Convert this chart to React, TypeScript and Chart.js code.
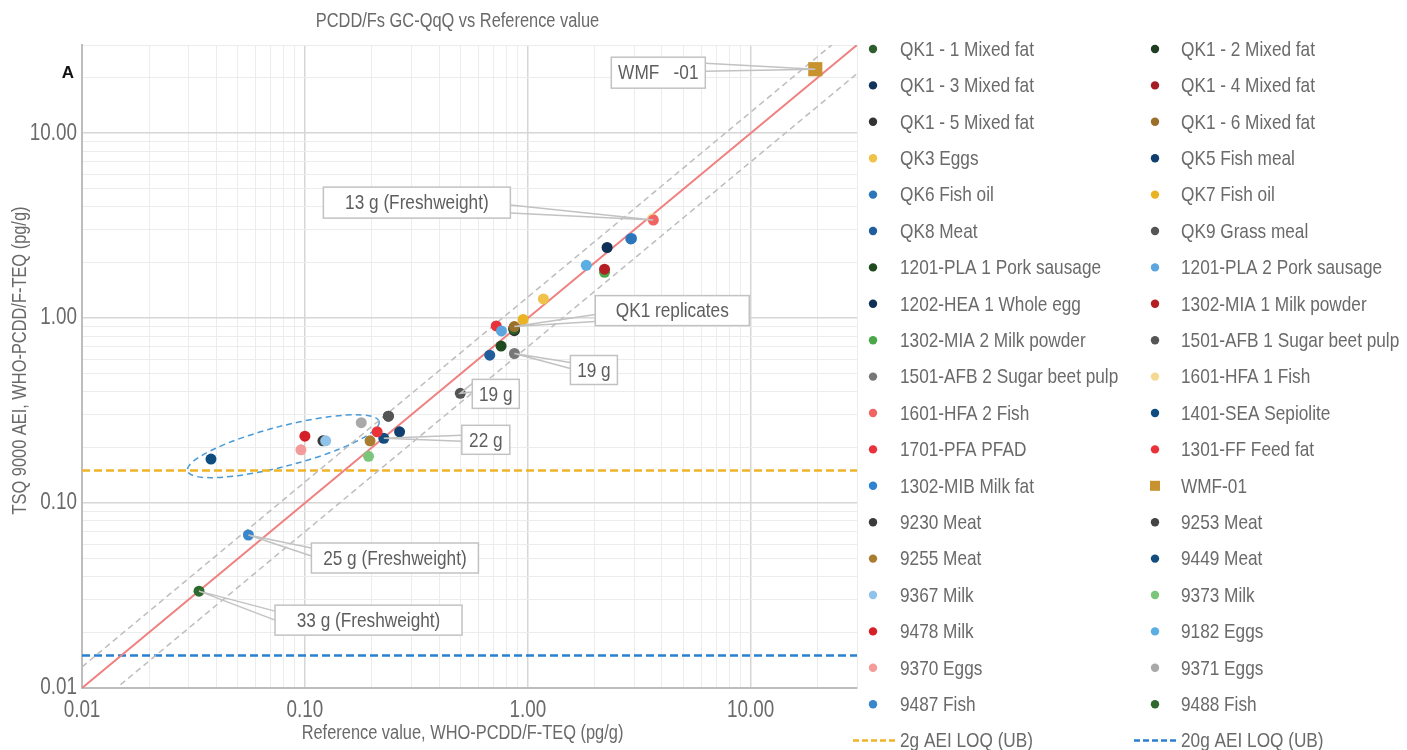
import { useEffect, useRef } from "react";
import { Chart, registerables } from "chart.js";

Chart.register(...registerables);

// Samples, listed in legend order (read left to right, row by row)
const sampleNames = [
  "QK1 - 1 Mixed fat", "QK1 - 2 Mixed fat",
  "QK1 - 3 Mixed fat", "QK1 - 4 Mixed fat",
  "QK1 - 5 Mixed fat", "QK1 - 6 Mixed fat",
  "QK3 Eggs", "QK5 Fish meal",
  "QK6 Fish oil", "QK7 Fish oil",
  "QK8 Meat", "QK9 Grass meal",
  "1201-PLA 1 Pork sausage", "1201-PLA 2 Pork sausage",
  "1202-HEA 1 Whole egg", "1302-MIA 1 Milk powder",
  "1302-MIA 2 Milk powder", "1501-AFB 1 Sugar beet pulp",
  "1501-AFB 2 Sugar beet pulp", "1601-HFA 1 Fish",
  "1601-HFA 2 Fish", "1401-SEA Sepiolite",
  "1701-PFA PFAD", "1301-FF Feed fat",
  "1302-MIB Milk fat", "WMF-01",
  "9230 Meat", "9253 Meat",
  "9255 Meat", "9449 Meat",
  "9367 Milk", "9373 Milk",
  "9478 Milk", "9182 Eggs",
  "9370 Eggs", "9371 Eggs",
  "9487 Fish", "9488 Fish",
];

// Reference value, WHO-PCDD/F-TEQ (pg/g)
const referenceValues = [
  0.865, 0.87,
  0.87, 0.865,
  0.87, 0.87,
  1.175, 0.266,
  2.9, 0.953,
  0.675, 0.237,
  0.759, 0.762,
  2.27, 2.21,
  2.21, 0.498,
  0.871, 3.63,
  3.66, 0.0379,
  0.722, 0.211,
  2.92, 19.5,
  0.1205, 0.237,
  0.196, 0.226,
  0.124, 0.193,
  0.1, 1.83,
  0.096, 0.179,
  0.0558, 0.0335,
];

// TSQ 9000 AEI, WHO-PCDD/F-TEQ (pg/g)
const measuredValues = [
  0.875, 0.865,
  0.87, 0.88,
  0.855, 0.9,
  1.27, 0.243,
  2.68, 0.984,
  0.631, 0.295,
  0.706, 0.853,
  2.41, 1.84,
  1.77, 0.392,
  0.644, 3.45,
  3.39, 0.173,
  0.908, 0.243,
  2.7, 22.2,
  0.217, 0.295,
  0.217, 0.224,
  0.217, 0.179,
  0.23, 1.93,
  0.194, 0.272,
  0.0672, 0.0334,
];

const sampleColors = [
  "#2e5e2e", "#1f3d1f",
  "#13345a", "#a51c24",
  "#333333", "#9a6f2a",
  "#f0c24a", "#0f3f6e",
  "#2b75bb", "#e9b322",
  "#1f5d9c", "#555555",
  "#1f4a20", "#5da5de",
  "#0f3157", "#b41f24",
  "#4aa84a", "#555555",
  "#777777", "#f5d892",
  "#f06464", "#0f4c80",
  "#e8323c", "#ea3338",
  "#2f82cf", "#c8922e",
  "#3a3a3a", "#444444",
  "#a97d30", "#134c7e",
  "#90c3ea", "#7cc67c",
  "#d5202a", "#5aaee2",
  "#f39a9a", "#a9a9a9",
  "#3a86cc", "#2e6a2e",
];

// Stacking of overlapping markers
const drawnBelow = ["1601-HFA 1 Fish", "9230 Meat"];
const drawnAbove = ["QK1 - 6 Mixed fat"];

// Axis range, labelled ticks and reference lines
const axisRange = [0.01, 30];
const decadeTicks = [0.01, 0.1, 1, 10];
const identityLine = [0.01, 30];
const upperBandFactor = 1.3;
const lowerBandFactor = 0.7;
const loqLabels = ["2g AEI LOQ (UB)", "20g AEI LOQ (UB)"];
const loqValues = [0.15, 0.015];
const loqColors = ["#f0b429", "#2a7fcf"];

const chartTitle = "PCDD/Fs GC-QqQ vs Reference value";
const xTitle = "Reference value, WHO-PCDD/F-TEQ (pg/g)";
const yTitle = "TSQ 9000 AEI, WHO-PCDD/F-TEQ (pg/g)";

// Labelled samples with callout boxes (offsets in px from the marker)
const callouts = [
  { sample: "WMF-01", text: "WMF   -01", dx: -204, dy: -12, w: 94, h: 31, side: "right", a: [6, 14] },
  { sample: "1601-HFA 2 Fish", text: "13 g (Freshweight)", dx: -330, dy: -33, w: 187, h: 31, side: "right", a: [18, 26] },
  { sample: "QK1 - 6 Mixed fat", text: "QK1 replicates", dx: 81, dy: -31, w: 154, h: 30, side: "left", a: [19, 26] },
  { sample: "1501-AFB 2 Sugar beet pulp", text: "19 g", dx: 56, dy: 2, w: 47, h: 29, side: "left", a: [7, 13] },
  { sample: "1501-AFB 1 Sugar beet pulp", text: "19 g", dx: 12, dy: -14, w: 47, h: 29, side: "left", a: [4, 13] },
  { sample: "9449 Meat", text: "22 g", dx: 78, dy: -13, w: 48, h: 29, side: "left", a: [10, 16] },
  { sample: "9487 Fish", text: "25 g (Freshweight)", dx: 63, dy: 8, w: 167, h: 30, side: "left", a: [5, 13] },
  { sample: "9488 Fish", text: "33 g (Freshweight)", dx: 76, dy: 14, w: 187, h: 30, side: "left", a: [6, 15] },
];

// Dashed ellipse around the low-level cluster (centre in data units, radii in px)
const clusterEllipse = { x: 0.08, y: 0.203, rx: 99, ry: 20, angle: -14.5 };

const FONT = "'Liberation Sans', Arial, sans-serif";
const NARROW = 0.82;
const TEXT = "#6a6a6a";

const isDecade = (v: number) => Math.abs(Math.log10(v) - Math.round(Math.log10(v))) < 1e-9;

const gridValues: number[] = [];
for (let e = -2; e <= 1; e++) {
  for (let m = 1; m <= 9; m++) {
    const v = +(m * Math.pow(10, e)).toPrecision(3);
    if (v <= axisRange[1] + 1e-9) gridValues.push(v);
  }
}

// Condensed text: regular face squeezed horizontally
function narrowText(
  ctx: CanvasRenderingContext2D,
  text: string,
  x: number,
  y: number,
  size: number,
  color: string,
  align: CanvasTextAlign = "left",
  rotate = 0
) {
  ctx.save();
  ctx.font = `${size}px ${FONT}`;
  ctx.fillStyle = color;
  ctx.textAlign = align;
  ctx.textBaseline = "middle";
  ctx.translate(x, y);
  if (rotate) ctx.rotate(rotate);
  ctx.scale(NARROW, 1);
  ctx.fillText(text, 0, 0);
  ctx.restore();
}

const overlayPlugin = {
  id: "overlay",
  beforeDatasetsDraw(chart: any) {
    const { ctx, scales, chartArea } = chart;
    const cx = scales.x.getPixelForValue(clusterEllipse.x);
    const cy = scales.y.getPixelForValue(clusterEllipse.y);
    ctx.save();
    ctx.beginPath();
    ctx.rect(chartArea.left, chartArea.top, chartArea.width, chartArea.height);
    ctx.clip();
    ctx.beginPath();
    ctx.ellipse(cx, cy, clusterEllipse.rx, clusterEllipse.ry, (clusterEllipse.angle * Math.PI) / 180, 0, Math.PI * 2);
    ctx.setLineDash([6, 4]);
    ctx.lineWidth = 1.5;
    ctx.strokeStyle = "#4a9ad8";
    ctx.stroke();
    ctx.restore();
  },
  afterDatasetsDraw(chart: any) {
    const { ctx, scales } = chart;
    ctx.save();
    callouts.forEach((c) => {
      const i = sampleNames.indexOf(c.sample);
      const px = scales.x.getPixelForValue(referenceValues[i]);
      const py = scales.y.getPixelForValue(measuredValues[i]);
      const bx = px + c.dx;
      const by = py + c.dy;
      const ex = c.side === "right" ? bx + c.w : bx;
      ctx.setLineDash([]);
      ctx.strokeStyle = "#c2c2c2";
      ctx.lineWidth = 1.5;
      ctx.beginPath();
      ctx.moveTo(ex, by + c.a[0]);
      ctx.lineTo(px, py);
      ctx.lineTo(ex, by + c.a[1]);
      ctx.stroke();
      ctx.fillStyle = "#ffffff";
      ctx.fillRect(bx, by, c.w, c.h);
      ctx.strokeRect(bx, by, c.w, c.h);
      narrowText(ctx, c.text, bx + c.w / 2, by + c.h / 2 + 1, 21, "#5e5e5e", "center");
    });
    ctx.restore();
  },
  afterDraw(chart: any) {
    const { ctx, chartArea, scales } = chart;
    ctx.save();

    // axis tick labels
    decadeTicks.forEach((v) => {
      const label = v.toFixed(2);
      narrowText(ctx, label, scales.x.getPixelForValue(v), chartArea.bottom + 23, 23, TEXT, "center");
      narrowText(ctx, label, chartArea.left - 5, scales.y.getPixelForValue(v), 23, TEXT, "right");
    });

    // axis titles and chart title
    narrowText(ctx, xTitle, (chartArea.left + chartArea.right) / 2 - 7, chartArea.bottom + 45, 20, TEXT, "center");
    narrowText(ctx, yTitle, 20, (chartArea.top + chartArea.bottom) / 2 - 6, 20, TEXT, "center", -Math.PI / 2);
    narrowText(ctx, chartTitle, (chartArea.left + chartArea.right) / 2 - 12, 21, 20, TEXT, "center");

    // panel letter
    ctx.fillStyle = "#111111";
    ctx.font = `bold 17px ${FONT}`;
    ctx.textAlign = "center";
    ctx.textBaseline = "middle";
    ctx.fillText("A", chartArea.left - 14, chartArea.top + 28);

    // legend in two columns
    const colMarker = [chartArea.right + 16, chartArea.right + 298];
    const colText = [chartArea.right + 43, chartArea.right + 324];
    const top = 49;
    const step = 36.4;
    sampleNames.forEach((name, i) => {
      const col = i % 2;
      const row = Math.floor(i / 2);
      const y = top + row * step;
      ctx.fillStyle = sampleColors[i];
      if (name === "WMF-01") {
        ctx.fillRect(colMarker[col] - 5, y - 5, 10, 10);
      } else {
        ctx.beginPath();
        ctx.arc(colMarker[col], y, 4.2, 0, Math.PI * 2);
        ctx.fill();
      }
      narrowText(ctx, name, colText[col], y + 1, 21, TEXT, "left");
    });
    const lastRow = top + Math.ceil(sampleNames.length / 2) * step;
    loqLabels.forEach((label, k) => {
      ctx.strokeStyle = loqColors[k];
      ctx.lineWidth = 2.5;
      ctx.setLineDash([6, 3]);
      ctx.beginPath();
      ctx.moveTo(colText[k] - 47, lastRow);
      ctx.lineTo(colText[k] - 3, lastRow);
      ctx.stroke();
      ctx.setLineDash([]);
      narrowText(ctx, label, colText[k], lastRow + 1, 21, TEXT, "left");
    });
    ctx.restore();
  },
};

export default function App() {
  const canvasRef = useRef<HTMLCanvasElement | null>(null);

  useEffect(() => {
    if (!canvasRef.current) return;
    Chart.defaults.font.family = FONT;
    Chart.defaults.color = TEXT;

    const sampleDatasets = sampleNames.map((name, i) => ({
      type: "scatter" as const,
      label: name,
      data: [{ x: referenceValues[i], y: measuredValues[i] }],
      backgroundColor: sampleColors[i],
      borderColor: sampleColors[i],
      borderWidth: 0,
      pointRadius: name === "WMF-01" ? 10 : 5.5,
      pointStyle: name === "WMF-01" ? "rect" : "circle",
      order: drawnBelow.includes(name) ? 1 : drawnAbove.includes(name) ? -1 : 0,
    }));

    const lineDataset = (label: string, pts: { x: number; y: number }[], color: string, width: number, dash: number[]) => ({
      type: "line" as const,
      label,
      data: pts,
      borderColor: color,
      backgroundColor: color,
      borderWidth: width,
      borderDash: dash,
      pointRadius: 0,
      showLine: true,
      fill: false,
      tension: 0,
      order: 5,
    });

    const datasets: any[] = [
      ...sampleDatasets,
      lineDataset("y = x", identityLine.map((v) => ({ x: v, y: v })), "#f07f7f", 2, []),
      lineDataset("+30%", identityLine.map((v) => ({ x: v, y: v * upperBandFactor })), "#bdbdbd", 1.5, [6, 4]),
      lineDataset("-30%", identityLine.map((v) => ({ x: v, y: v * lowerBandFactor })), "#bdbdbd", 1.5, [6, 4]),
      ...loqLabels.map((label, k) =>
        lineDataset(label, axisRange.map((x) => ({ x, y: loqValues[k] })), loqColors[k], 2.5, [8, 4])
      ),
    ];

    const axis = (isY: boolean) => ({
      type: "logarithmic" as const,
      min: axisRange[0],
      max: axisRange[1],
      afterBuildTicks: (scale: any) => {
        scale.ticks = gridValues.map((value) => ({ value }));
      },
      afterFit: (scale: any) => {
        if (isY) scale.width = 82;
        else scale.height = 62;
      },
      ticks: { display: false, autoSkip: false },
      grid: {
        drawTicks: false,
        color: (ctx: any) => (ctx.tick && isDecade(ctx.tick.value) ? "#d6d6d6" : "#ececec"),
        lineWidth: (ctx: any) => (ctx.tick && isDecade(ctx.tick.value) ? 1.5 : 1),
      },
      border: { display: true, color: "#bdbdbd", width: 2 },
      title: { display: false },
    });

    const chart = new Chart(canvasRef.current, {
      type: "scatter",
      data: { datasets },
      options: {
        responsive: false,
        animation: false,
        devicePixelRatio: 1,
        layout: { padding: { top: 45, right: 550, bottom: 0, left: 0 } },
        plugins: {
          legend: { display: false },
          tooltip: { enabled: false },
          title: { display: false },
        },
        scales: {
          x: axis(false),
          y: axis(true),
        },
      },
      plugins: [overlayPlugin],
    });

    return () => chart.destroy();
  }, []);

  return (
    <div style={{ position: "fixed", left: 0, top: 0, width: 1407, height: 750, background: "#ffffff" }}>
      <canvas ref={canvasRef} width={1407} height={750} style={{ display: "block" }} />
    </div>
  );
}
